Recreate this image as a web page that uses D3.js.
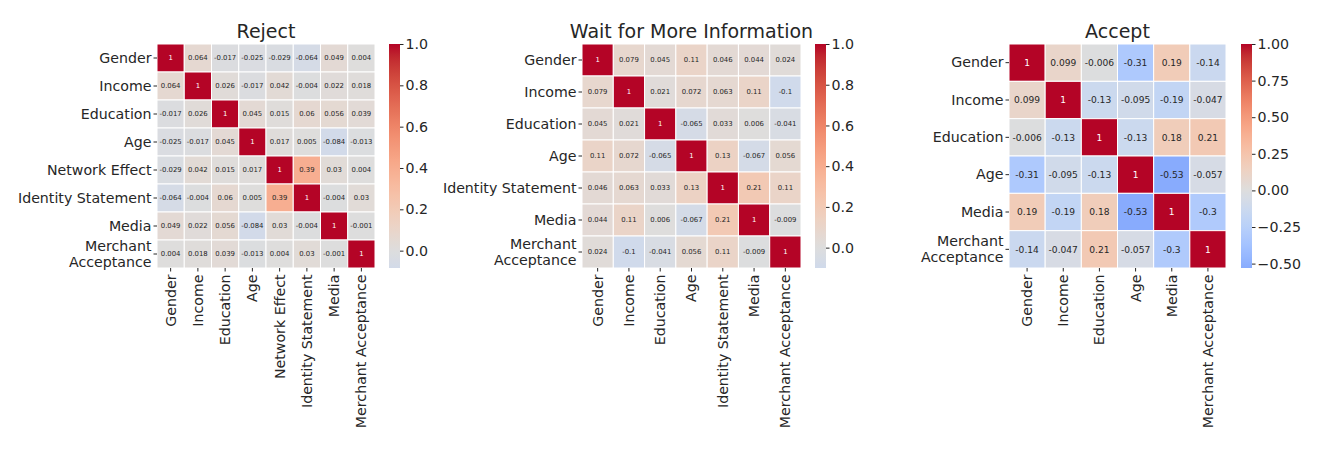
<!DOCTYPE html>
<html><head><meta charset="utf-8">
<script src="https://cdn.jsdelivr.net/npm/d3@7"></script>
<style>
body{margin:0;background:#fff;}
svg text{font-family:"DejaVu Sans",sans-serif;fill:#262626;}
</style></head><body>
<svg id="chart" width="1320" height="459"></svg>
<script>
// ---------- data ----------
const rejectLabels = ["Gender","Income","Education","Age","Network Effect","Identity Statement","Media","Merchant Acceptance"];
const rejectMatrix = [
  [1, 0.064, -0.017, -0.025, -0.029, -0.064, 0.049, 0.004],
  [0.064, 1, 0.026, -0.017, 0.042, -0.004, 0.022, 0.018],
  [-0.017, 0.026, 1, 0.045, 0.015, 0.06, 0.056, 0.039],
  [-0.025, -0.017, 0.045, 1, 0.017, 0.005, -0.084, -0.013],
  [-0.029, 0.042, 0.015, 0.017, 1, 0.39, 0.03, 0.004],
  [-0.064, -0.004, 0.06, 0.005, 0.39, 1, -0.004, 0.03],
  [0.049, 0.022, 0.056, -0.084, 0.03, -0.004, 1, -0.001],
  [0.004, 0.018, 0.039, -0.013, 0.004, 0.03, -0.001, 1]
];
const rejectTicks = [0, 0.2, 0.4, 0.6, 0.8, 1.0];

const waitLabels = ["Gender","Income","Education","Age","Identity Statement","Media","Merchant Acceptance"];
const waitMatrix = [
  [1, 0.079, 0.045, 0.11, 0.046, 0.044, 0.024],
  [0.079, 1, 0.021, 0.072, 0.063, 0.11, -0.1],
  [0.045, 0.021, 1, -0.065, 0.033, 0.006, -0.041],
  [0.11, 0.072, -0.065, 1, 0.13, -0.067, 0.056],
  [0.046, 0.063, 0.033, 0.13, 1, 0.21, 0.11],
  [0.044, 0.11, 0.006, -0.067, 0.21, 1, -0.009],
  [0.024, -0.1, -0.041, 0.056, 0.11, -0.009, 1]
];
const waitTicks = [0, 0.2, 0.4, 0.6, 0.8, 1.0];

const acceptLabels = ["Gender","Income","Education","Age","Media","Merchant Acceptance"];
const acceptMatrix = [
  [1, 0.099, -0.006, -0.31, 0.19, -0.14],
  [0.099, 1, -0.13, -0.095, -0.19, -0.047],
  [-0.006, -0.13, 1, -0.13, 0.18, 0.21],
  [-0.31, -0.095, -0.13, 1, -0.53, -0.057],
  [0.19, -0.19, 0.18, -0.53, 1, -0.3],
  [-0.14, -0.047, 0.21, -0.057, -0.3, 1]
];
const acceptTicks = [-0.5, -0.25, 0, 0.25, 0.5, 0.75, 1.0];

// wrapped y tick labels
const yWrap = {"Merchant Acceptance": ["Merchant", "Acceptance"]};

// ---------- colormap (coolwarm) ----------
const coolwarmStops = [
 [59,76,192],[68,90,204],[77,104,215],[87,117,225],[98,130,234],[108,142,241],[119,154,247],[130,165,251],
 [141,176,254],[152,185,255],[163,194,255],[174,201,253],[184,208,249],[194,213,244],[204,217,238],[213,219,230],
 [221,221,221],[229,216,209],[236,211,197],[241,204,184],[245,196,172],[247,187,160],[247,177,148],[247,166,135],
 [244,154,123],[241,141,111],[236,127,99],[229,112,88],[222,96,77],[213,80,66],[203,62,56],[192,40,47],[180,4,38]
].map(c => d3.rgb(c[0],c[1],c[2]));
const coolwarm = d3.piecewise(d3.interpolateRgb, coolwarmStops);

function luminance(c) {
  const r = d3.rgb(c);
  const lin = v => { v = v/255; return v <= 0.03928 ? v/12.92 : Math.pow((v+0.055)/1.055, 2.4); };
  return 0.2126*lin(r.r) + 0.7152*lin(r.g) + 0.0722*lin(r.b);
}

const annotFmt = v => d3.format(".2~g")(v).replace("\u2212", "-");

const svg = d3.select("#chart");
const defs = svg.append("defs");

function drawHeatmap(cfg) {
  const {id, title, labels, matrix, ticks, tickFmt, left, right, top, bottom, cbarX, annotSize} = cfg;
  const g = svg.append("g");
  const all = matrix.flat();
  const vmin = d3.min(all), vmax = d3.max(all);
  const center = 0;
  const vrange = Math.max(vmax - center, center - vmin);
  const color = v => coolwarm((v - (center - vrange)) / (2 * vrange));

  const x = d3.scaleBand().domain(labels).range([left, right]);
  const y = d3.scaleBand().domain(labels).range([top, bottom]);
  const cells = matrix.flatMap((row, i) => row.map((v, j) => ({r: labels[i], c: labels[j], v})));

  g.selectAll("rect.cell").data(cells).join("rect")
    .attr("class", "cell")
    .attr("x", d => x(d.c)).attr("y", d => y(d.r))
    .attr("width", x.bandwidth()).attr("height", y.bandwidth())
    .attr("fill", d => color(d.v))
    .attr("stroke", "#fff").attr("stroke-width", 1);

  g.selectAll("text.annot").data(cells).join("text")
    .attr("class", "annot")
    .attr("x", d => x(d.c) + x.bandwidth()/2)
    .attr("y", d => y(d.r) + y.bandwidth()/2)
    .attr("dy", "0.35em")
    .attr("text-anchor", "middle")
    .style("font-size", annotSize + "px")
    .style("fill", d => luminance(color(d.v)) > 0.408 ? "#262626" : "#ffffff")
    .text(d => annotFmt(d.v));

  // y axis
  const ya = g.append("g").attr("transform", `translate(${left},0)`)
    .call(d3.axisLeft(y).tickSize(3.5).tickPadding(2));
  ya.select(".domain").remove();
  ya.selectAll(".tick line").attr("stroke", "#262626");
  ya.selectAll(".tick text").style("font-size", "14.2px").attr("fill", null).each(function(d) {
    const parts = yWrap[d];
    if (parts) {
      const t = d3.select(this).text(null).attr("dy", null);
      parts.forEach((p, k) => {
        t.append("tspan").attr("x", -5.5).attr("y", (k - (parts.length-1)/2) * 16.4).attr("dy", "0.35em").text(p);
      });
    }
  });

  // x axis
  const xa = g.append("g").attr("transform", `translate(0,${bottom})`)
    .call(d3.axisBottom(x).tickSize(3.5).tickPadding(2));
  xa.select(".domain").remove();
  xa.selectAll(".tick line").attr("stroke", "#262626");
  xa.selectAll(".tick text").style("font-size", "14.2px").attr("fill", null)
    .attr("x", 0).attr("y", 0).attr("dy", "0.35em")
    .attr("text-anchor", "end")
    .attr("transform", "translate(0,6.5) rotate(-90)");

  // title
  g.append("text").attr("x", (left + right)/2).attr("y", 37.5)
    .attr("text-anchor", "middle").style("font-size", "19px").text(title);

  // colorbar
  const cbW = 11;
  const grad = defs.append("linearGradient").attr("id", "grad-" + id)
    .attr("x1", 0).attr("y1", 1).attr("x2", 0).attr("y2", 0);
  const nStops = 60;
  d3.range(nStops + 1).forEach(k => {
    const v = vmin + (vmax - vmin) * k / nStops;
    grad.append("stop").attr("offset", k / nStops).attr("stop-color", color(v));
  });
  g.append("rect").attr("x", cbarX).attr("y", top).attr("width", cbW).attr("height", bottom - top)
    .attr("fill", `url(#grad-${id})`);
  const cb = d3.scaleLinear().domain([vmin, vmax]).range([bottom, top]);
  const ca = g.append("g").attr("transform", `translate(${cbarX + cbW},0)`)
    .call(d3.axisRight(cb).tickValues(ticks).tickFormat(d3.format(tickFmt)).tickSize(3.5).tickPadding(2));
  ca.select(".domain").remove();
  ca.selectAll(".tick line").attr("stroke", "#262626");
  ca.selectAll(".tick text").style("font-size", "14.2px").attr("fill", null);
}

drawHeatmap({id: "reject", title: "Reject", labels: rejectLabels, matrix: rejectMatrix, ticks: rejectTicks,
  tickFmt: ".1f", left: 157, right: 375, top: 44, bottom: 268, cbarX: 389, annotSize: 6.9});
drawHeatmap({id: "wait", title: "Wait for More Information", labels: waitLabels, matrix: waitMatrix, ticks: waitTicks,
  tickFmt: ".1f", left: 582, right: 801, top: 44, bottom: 268, cbarX: 815, annotSize: 6.9});
drawHeatmap({id: "accept", title: "Accept", labels: acceptLabels, matrix: acceptMatrix, ticks: acceptTicks,
  tickFmt: ".2f", left: 1009, right: 1226, top: 44, bottom: 268, cbarX: 1241, annotSize: 9.1});
</script>
</body></html>
